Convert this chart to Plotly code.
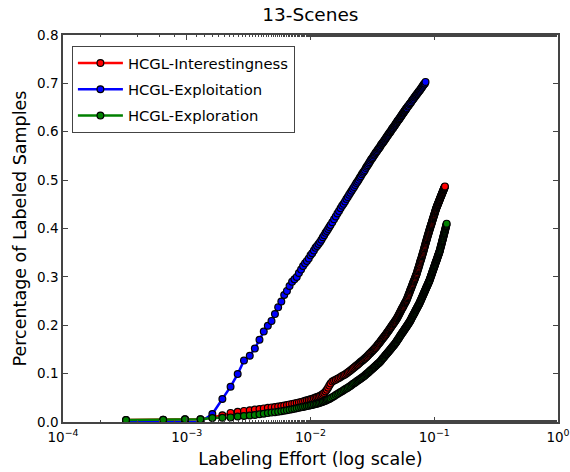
import plotly.graph_objects as go

# Labeling effort (fraction of samples queried), shared by all three series
effort = [
    0.000323, 0.000645, 0.000968, 0.00129, 0.00161, 0.00194, 0.00226, 0.00258, 0.0029, 0.00323,
    0.00355, 0.00387, 0.00419, 0.00452, 0.00484, 0.00516, 0.00548, 0.00581, 0.00613, 0.00645,
    0.00677, 0.0071, 0.00742, 0.00774, 0.00806, 0.00839, 0.00871, 0.00903, 0.00935, 0.00968,
    0.0100, 0.01032, 0.01065, 0.01097, 0.01129, 0.01161, 0.01194, 0.01226, 0.01258, 0.0129,
    0.01323, 0.01355, 0.01387, 0.01419, 0.01452,
    0.015, 0.016, 0.017, 0.018, 0.019, 0.020, 0.021, 0.022, 0.023, 0.024,
    0.025, 0.026, 0.027, 0.028, 0.029, 0.030, 0.031, 0.032, 0.033, 0.034,
    0.035, 0.036, 0.037, 0.038, 0.039, 0.040, 0.041, 0.042, 0.043, 0.044,
    0.045, 0.046, 0.047, 0.048, 0.049, 0.050, 0.051, 0.052, 0.053, 0.054,
    0.055, 0.056, 0.057, 0.058, 0.059, 0.060, 0.061, 0.062, 0.063, 0.064,
    0.065, 0.066, 0.067, 0.068, 0.069, 0.070, 0.071, 0.072, 0.073, 0.074,
    0.075, 0.076, 0.077, 0.078, 0.079, 0.080, 0.081, 0.082, 0.083, 0.084,
    0.085, 0.086, 0.087, 0.088, 0.089, 0.090, 0.091, 0.092, 0.093, 0.094,
    0.095, 0.096, 0.097, 0.098, 0.099, 0.100, 0.101, 0.102, 0.103, 0.104,
    0.105, 0.106, 0.107, 0.108, 0.109, 0.110, 0.111, 0.112, 0.113, 0.114,
    0.115, 0.116, 0.117, 0.118, 0.119, 0.120, 0.121, 0.122, 0.123, 0.124,
    0.125, 0.126,
]

# Extra in-between samples of the dense part of the curves
effort_mid = [
    0.0155, 0.0165, 0.0175, 0.0185, 0.0195, 0.0205, 0.0215, 0.0225, 0.0235, 0.0245,
    0.0255, 0.0265, 0.0275, 0.0285, 0.0295, 0.0305, 0.0315, 0.0325, 0.0335, 0.0345,
    0.0355, 0.0365, 0.0375, 0.0385, 0.0395, 0.0405, 0.0415, 0.0425, 0.0435, 0.0445,
    0.0455, 0.0465, 0.0475, 0.0485, 0.0495, 0.0505, 0.0515, 0.0525, 0.0535, 0.0545,
    0.0555, 0.0565, 0.0575, 0.0585, 0.0595, 0.0605, 0.0615, 0.0625, 0.0635, 0.0645,
    0.0655, 0.0665, 0.0675, 0.0685, 0.0695, 0.0705, 0.0715, 0.0725, 0.0735, 0.0745,
    0.0755, 0.0765, 0.0775, 0.0785, 0.0795, 0.0805, 0.0815, 0.0825, 0.0835, 0.0845,
    0.0855, 0.0865, 0.0875, 0.0885, 0.0895, 0.0905, 0.0915, 0.0925, 0.0935, 0.0945,
    0.0955, 0.0965, 0.0975, 0.0985, 0.0995, 0.1005, 0.1015, 0.1025, 0.1035, 0.1045,
    0.1055, 0.1065, 0.1075, 0.1085, 0.1095, 0.1105, 0.1115, 0.1125, 0.1135, 0.1145,
    0.1155, 0.1165, 0.1175, 0.1185, 0.1195, 0.1205, 0.1215, 0.1225, 0.1235, 0.1245,
    0.1255,
]

interestingness = [
    0.0041, 0.0048, 0.0056, 0.0058, 0.0100, 0.0140, 0.0188, 0.0213, 0.0229, 0.0244,
    0.0256, 0.0268, 0.0281, 0.0293, 0.0302, 0.0310, 0.0320, 0.0331, 0.0341, 0.0351,
    0.0364, 0.0374, 0.0384, 0.0395, 0.0405, 0.0416, 0.0426, 0.0438, 0.0449, 0.0459,
    0.0469, 0.0480, 0.0492, 0.0504, 0.0515, 0.0525, 0.0542, 0.0560, 0.0579, 0.0602,
    0.0632, 0.0668, 0.0708, 0.0752, 0.0795,
    0.0836, 0.0874, 0.0912, 0.0951, 0.0984, 0.1023, 0.1065, 0.1106, 0.1147, 0.1186,
    0.1224, 0.1261, 0.1296, 0.1331, 0.1368, 0.1409, 0.1445, 0.1482, 0.1519, 0.1555,
    0.1596, 0.1635, 0.1674, 0.1714, 0.1751, 0.1786, 0.1823, 0.1863, 0.1898, 0.1937,
    0.1974, 0.2009, 0.2042, 0.2075, 0.2108, 0.2145, 0.2188, 0.2227, 0.2271, 0.2310,
    0.2349, 0.2384, 0.2424, 0.2459, 0.2494, 0.2533, 0.2581, 0.2629, 0.2672, 0.2721,
    0.2764, 0.2812, 0.2855, 0.2898, 0.2936, 0.2979, 0.3022, 0.3059, 0.3114, 0.3162,
    0.3210, 0.3257, 0.3312, 0.3353, 0.3401, 0.3448, 0.3496, 0.3540, 0.3592, 0.3637,
    0.3689, 0.3733, 0.3778, 0.3823, 0.3867, 0.3909, 0.3948, 0.3988, 0.4028, 0.4067,
    0.4100, 0.4140, 0.4180, 0.4213, 0.4253, 0.4286, 0.4319, 0.4358, 0.4391, 0.4425,
    0.4454, 0.4480, 0.4505, 0.4531, 0.4557, 0.4583, 0.4609, 0.4635, 0.4660, 0.4681,
    0.4707, 0.4733, 0.4753, 0.4779, 0.4800, 0.4826, 0.4846, 0.4870,
]
interestingness_mid = [
    0.0856, 0.0893, 0.0931, 0.0968, 0.1003, 0.1044, 0.1086, 0.1127, 0.1166, 0.1205,
    0.1243, 0.1279, 0.1314, 0.1350, 0.1388, 0.1427, 0.1464, 0.1501, 0.1537, 0.1576,
    0.1616, 0.1655, 0.1694, 0.1733, 0.1769, 0.1805, 0.1843, 0.1881, 0.1918, 0.1956,
    0.1992, 0.2026, 0.2059, 0.2092, 0.2127, 0.2167, 0.2208, 0.2249, 0.2291, 0.2330,
    0.2367, 0.2404, 0.2442, 0.2477, 0.2514, 0.2557, 0.2605, 0.2650, 0.2697, 0.2742,
    0.2788, 0.2834, 0.2877, 0.2917, 0.2958, 0.3001, 0.3041, 0.3087, 0.3138, 0.3186,
    0.3234, 0.3285, 0.3333, 0.3377, 0.3425, 0.3472, 0.3518, 0.3566, 0.3615, 0.3663,
    0.3711, 0.3756, 0.3801, 0.3845, 0.3888, 0.3929, 0.3968, 0.4008, 0.4048, 0.4084,
    0.4120, 0.4160, 0.4197, 0.4233, 0.4270, 0.4303, 0.4339, 0.4375, 0.4408, 0.4440,
    0.4467, 0.4493, 0.4518, 0.4544, 0.4570, 0.4596, 0.4622, 0.4648, 0.4671, 0.4694,
    0.4720, 0.4743, 0.4766, 0.4790, 0.4813, 0.4836, 0.4858,
]

exploitation = [
    0.0, 0.0, 0.0, 0.0, 0.0165, 0.0475, 0.073, 0.099, 0.127, 0.137,
    0.152, 0.170, 0.187, 0.199, 0.209, 0.223, 0.237, 0.249, 0.2625, 0.271,
    0.281, 0.290, 0.295, 0.300, 0.308, 0.315, 0.3225, 0.328, 0.333, 0.338,
    0.3445, 0.349, 0.3545, 0.360, 0.364, 0.368, 0.372, 0.377, 0.382, 0.386,
    0.391, 0.395, 0.399, 0.403, 0.407,
    0.413, 0.425, 0.436, 0.447, 0.456, 0.465, 0.474, 0.482, 0.490, 0.497,
    0.505, 0.512, 0.518, 0.525, 0.531, 0.537, 0.543, 0.548, 0.553, 0.558,
    0.563, 0.567, 0.572, 0.576, 0.580, 0.584, 0.588, 0.592, 0.596, 0.599,
    0.603, 0.607, 0.610, 0.613, 0.617, 0.620, 0.623, 0.626, 0.629, 0.632,
    0.635, 0.638, 0.641, 0.644, 0.647, 0.649, 0.652, 0.654, 0.657, 0.659,
    0.661, 0.664, 0.666, 0.668, 0.671, 0.673, 0.675, 0.677, 0.679, 0.681,
    0.683, 0.685, 0.687, 0.689, 0.691, 0.693, 0.695, 0.697, 0.699, 0.700,
    0.703,
]
exploitation_mid = [
    0.419, 0.431, 0.442, 0.451, 0.461, 0.470, 0.478, 0.486, 0.494, 0.501,
    0.508, 0.515, 0.521, 0.528, 0.534, 0.540, 0.545, 0.551, 0.556, 0.560,
    0.565, 0.569, 0.574, 0.578, 0.582, 0.586, 0.590, 0.594, 0.598, 0.601,
    0.605, 0.608, 0.612, 0.615, 0.618, 0.622, 0.625, 0.628, 0.631, 0.634,
    0.637, 0.640, 0.643, 0.645, 0.648,
]

exploration = [
    0.0041, 0.0048, 0.0056, 0.0058, 0.0083, 0.0087, 0.0095, 0.0114, 0.0124, 0.0134,
    0.0145, 0.0161, 0.0172, 0.0184, 0.0194, 0.0203, 0.0213, 0.0223, 0.0234, 0.0244,
    0.0254, 0.0265, 0.0275, 0.0285, 0.0294, 0.0304, 0.0312, 0.0320, 0.0329, 0.0337,
    0.0345, 0.0353, 0.0362, 0.0370, 0.0378, 0.0387, 0.0397, 0.0407, 0.0418, 0.0428,
    0.0440, 0.0453, 0.0465, 0.0478, 0.0490,
    0.0512, 0.0556, 0.0598, 0.0637, 0.0675, 0.0710, 0.0745, 0.0783, 0.0818, 0.0853,
    0.0885, 0.0917, 0.0946, 0.0980, 0.1013, 0.1049, 0.1080, 0.1112, 0.1144, 0.1173,
    0.1203, 0.1231, 0.1263, 0.1300, 0.1335, 0.1367, 0.1402, 0.1434, 0.1464, 0.1496,
    0.1526, 0.1555, 0.1583, 0.1610, 0.1643, 0.1678, 0.1712, 0.1743, 0.1777, 0.1808,
    0.1839, 0.1867, 0.1898, 0.1926, 0.1953, 0.1981, 0.2009, 0.2037, 0.2062, 0.2093,
    0.2125, 0.2160, 0.2191, 0.2223, 0.2250, 0.2282, 0.2313, 0.2341, 0.2372, 0.2400,
    0.2427, 0.2455, 0.2489, 0.2518, 0.2551, 0.2584, 0.2618, 0.2646, 0.2680, 0.2708,
    0.2741, 0.2770, 0.2798, 0.2827, 0.2855, 0.2884, 0.2912, 0.2941, 0.2976, 0.3012,
    0.3042, 0.3078, 0.3114, 0.3144, 0.3180, 0.3209, 0.3239, 0.3275, 0.3305, 0.3335,
    0.3365, 0.3395, 0.3425, 0.3455, 0.3485, 0.3515, 0.3545, 0.3586, 0.3626, 0.3658,
    0.3698, 0.3739, 0.3771, 0.3811, 0.3844, 0.3884, 0.3916, 0.3956, 0.3989, 0.4029,
    0.4061, 0.4100,
]
exploration_mid = [
    0.0534, 0.0577, 0.0618, 0.0656, 0.0693, 0.0728, 0.0764, 0.0801, 0.0836, 0.0869,
    0.0901, 0.0932, 0.0963, 0.0997, 0.1031, 0.1064, 0.1096, 0.1128, 0.1159, 0.1188,
    0.1217, 0.1247, 0.1282, 0.1318, 0.1351, 0.1385, 0.1418, 0.1449, 0.1480, 0.1511,
    0.1541, 0.1569, 0.1597, 0.1627, 0.1661, 0.1695, 0.1728, 0.1760, 0.1793, 0.1824,
    0.1853, 0.1883, 0.1912, 0.1940, 0.1967, 0.1995, 0.2023, 0.2050, 0.2078, 0.2109,
    0.2143, 0.2176, 0.2207, 0.2237, 0.2266, 0.2298, 0.2327, 0.2357, 0.2386, 0.2414,
    0.2441, 0.2472, 0.2504, 0.2535, 0.2568, 0.2601, 0.2632, 0.2663, 0.2694, 0.2725,
    0.2756, 0.2784, 0.2813, 0.2841, 0.2870, 0.2898, 0.2927, 0.2959, 0.2994, 0.3027,
    0.3060, 0.3096, 0.3129, 0.3162, 0.3195, 0.3224, 0.3257, 0.3290, 0.3320, 0.3350,
    0.3380, 0.3410, 0.3440, 0.3470, 0.3500, 0.3530, 0.3566, 0.3606, 0.3642, 0.3678,
    0.3719, 0.3755, 0.3791, 0.3828, 0.3864, 0.3900, 0.3936, 0.3973, 0.4009, 0.4045,
    0.4081,
]

series_names = ["HCGL-Interestingness", "HCGL-Exploitation", "HCGL-Exploration"]
series_values = [interestingness, exploitation, exploration]
series_mid_values = [interestingness_mid, exploitation_mid, exploration_mid]
series_colors = ["#ff0000", "#0000ff", "#008000"]

x_tick_vals = [1e-4, 1e-3, 1e-2, 1e-1, 1]
x_tick_text = ["10<sup>\u22124</sup>", "10<sup>\u22123</sup>", "10<sup>\u22122</sup>",
               "10<sup>\u22121</sup>", "10<sup>0</sup>"]
y_tick_vals = [0.0, 0.1, 0.2, 0.3, 0.4, 0.5, 0.6, 0.7, 0.8]

FONT = "DejaVu Sans"
SPINE = "#444444"

fig = go.Figure()
for name, ys, ys_mid, color in zip(series_names, series_values, series_mid_values, series_colors):
    pts = sorted(zip(effort[:len(ys)] + effort_mid[:len(ys_mid)], ys + ys_mid))
    fig.add_trace(go.Scatter(
        x=[p[0] for p in pts], y=[p[1] for p in pts], mode="lines+markers", name=name,
        legendgroup=name,
        line=dict(color=color, width=2.5),
        marker=dict(color=color, size=6.8, line=dict(color="black", width=1.2)),
    ))

axis_common = dict(
    showgrid=False, zeroline=False, showline=True, linecolor=SPINE, linewidth=1.5,
    mirror="ticks", ticks="inside", tickcolor=SPINE, tickwidth=1, automargin=False,
    tickfont=dict(family=FONT, size=13.5, color="black"),
)

fig.update_xaxes(
    type="log", range=[-4, 0], tickvals=x_tick_vals, ticktext=x_tick_text, ticklen=5,
    ticklabelstandoff=2,
    minor=dict(ticks="inside", ticklen=2.5, tickcolor=SPINE, showgrid=False),
    title=dict(text="Labeling Effort (log scale)", font=dict(family=FONT, size=17.5, color="black"),
               standoff=9),
    **axis_common,
)
fig.update_yaxes(
    range=[0, 0.8], tickvals=y_tick_vals, tickformat=".1f", ticklen=5,
    title=dict(text="Percentage of Labeled Samples", font=dict(family=FONT, size=17.5, color="black"),
               standoff=6),
    **axis_common,
)

fig.update_layout(
    width=570, height=472,
    margin=dict(l=63, r=12, t=35, b=50),
    paper_bgcolor="white", plot_bgcolor="white",
    title=dict(text="13-Scenes", x=0.5445, xanchor="center", y=0.97, yanchor="middle", yref="container",
               font=dict(family=FONT, size=18.5, color="black")),
    font=dict(family=FONT, color="black"),
    legend=dict(
        x=0.018, y=0.972, xanchor="left", yanchor="top",
        bgcolor="white", bordercolor=SPINE, borderwidth=1,
        font=dict(family=FONT, size=14.8, color="black"),
        tracegroupgap=4, itemwidth=45,
    ),
    showlegend=True,
)

fig.write_html("out.html")
